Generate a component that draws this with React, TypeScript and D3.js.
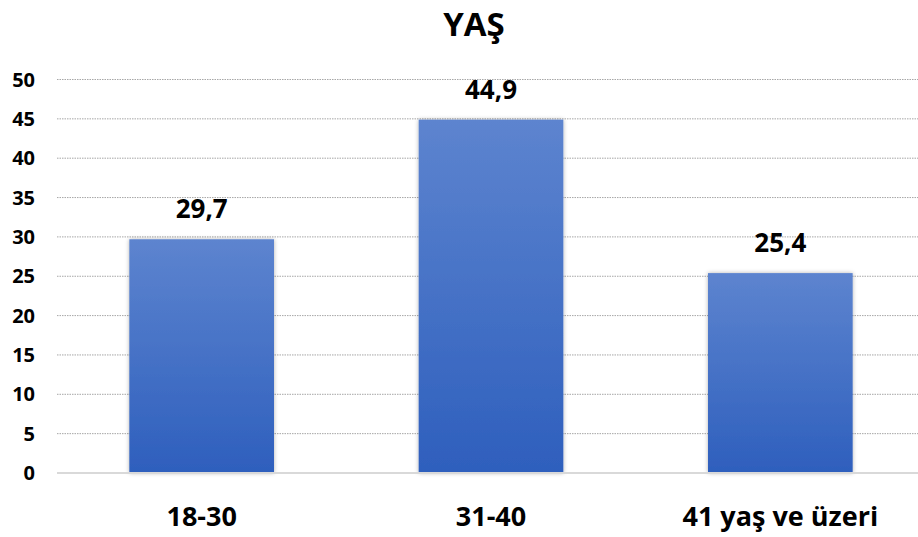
import React from "react";
import * as d3 from "d3";

const categories = ["18-30", "31-40", "41 yaş ve üzeri"];
const values = [29.7, 44.9, 25.4];
const valueLabels = ["29,7", "44,9", "25,4"];
const yTicks = [0, 5, 10, 15, 20, 25, 30, 35, 40, 45, 50];
const title = "YAŞ";

const W = 918;
const H = 537;
const FONT = "'Open Sans', 'Liberation Sans', sans-serif";

function App() {
	const x = d3
		.scaleBand<string>()
		.domain(categories)
		.range([57, 925])
		.paddingInner(0.5)
		.paddingOuter(0.25);

	const y = d3.scaleLinear().domain([0, 50]).range([473, 79.5]);

	return (
		<svg
			width={W}
			height={H}
			style={{ position: "absolute", left: 0, top: 0, background: "#fff" }}
			fontFamily={FONT}
		>
			<defs>
				<linearGradient id="barGrad" x1="0" y1="0" x2="0" y2="1">
					<stop offset="0%" stopColor="#5d84cf" />
					<stop offset="100%" stopColor="#2e5fbd" />
				</linearGradient>
				<filter id="shadow" x="-10%" y="-10%" width="120%" height="120%">
					<feDropShadow dx="0" dy="0" stdDeviation="2" floodColor="#000" floodOpacity="0.3" />
				</filter>
			</defs>

			<text
				x={W / 2 + 15}
				y={36}
				textAnchor="middle"
				fontSize={33}
				fontWeight="bold"
				fill="#000"
			>
				{title}
			</text>

			{yTicks.map((t) => (
				<g key={t}>
					{t > 0 && (
						<line
							x1={57}
							x2={W}
							y1={y(t)}
							y2={y(t)}
							stroke="#a6a6a6"
							strokeWidth={1}
							strokeDasharray="1.5 1"
						/>
					)}
					<text
						x={35}
						y={y(t)}
						dy="0.35em"
						textAnchor="end"
						fontSize={20}
						fontWeight="bold"
						fill="#000"
					>
						{t}
					</text>
				</g>
			))}

			{categories.map((c, i) => (
				<rect
					key={c}
					x={x(c)}
					y={y(values[i])}
					width={x.bandwidth()}
					height={y(0) - y(values[i])}
					fill="url(#barGrad)"
					filter="url(#shadow)"
				/>
			))}

			<line x1={57} x2={W} y1={y(0)} y2={y(0)} stroke="#d9d9d9" strokeWidth={2} />

			{categories.map((c, i) => (
				<text
					key={c}
					x={(x(c) as number) + x.bandwidth() / 2}
					y={y(values[i]) - 21}
					textAnchor="middle"
					fontSize={26}
					fontWeight="bold"
					fill="#000"
				>
					{valueLabels[i]}
				</text>
			))}

			{categories.map((c) => (
				<text
					key={c}
					x={(x(c) as number) + x.bandwidth() / 2}
					y={526}
					textAnchor="middle"
					fontSize={27}
					fontWeight="bold"
					fill="#000"
				>
					{c}
				</text>
			))}
		</svg>
	);
}

export default App;
